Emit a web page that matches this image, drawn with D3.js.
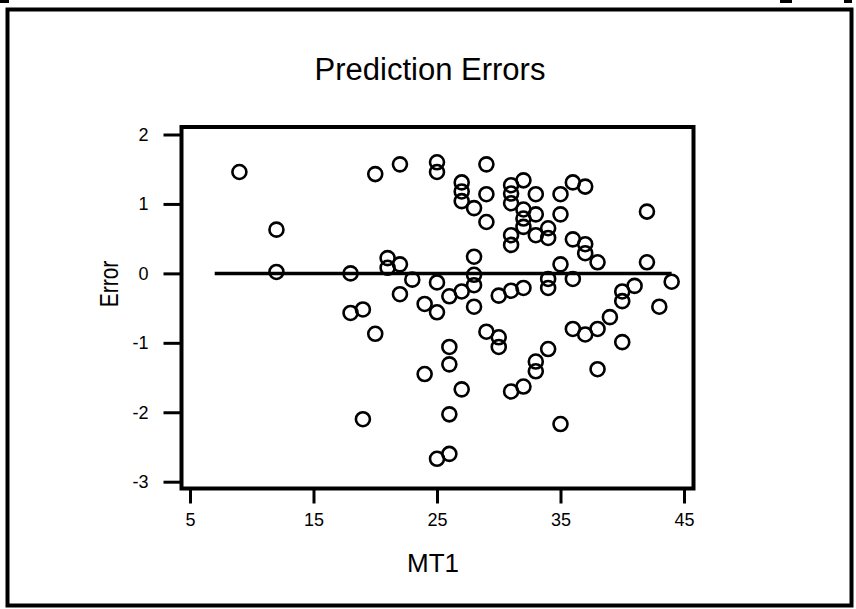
<!DOCTYPE html>
<html>
<head>
<meta charset="utf-8">
<script src="https://cdn.jsdelivr.net/npm/d3@7"></script>
<style>
  body { margin: 0; background: #fff; }
  text { font-family: "Liberation Sans", Arial, sans-serif; fill: #000; }
</style>
</head>
<body>
<div id="viz"></div>
<script>

// data: MT1 value and prediction error for each case
var mt1 = [9, 12, 12, 18, 18, 19, 19, 20, 20, 21, 21, 22, 22, 22, 23, 24, 24,
  25, 25, 25, 25, 25, 26, 26, 26, 26, 26, 27, 27, 27, 27, 27, 28, 28, 28, 28, 28,
  29, 29, 29, 29, 30, 30, 30, 31, 31, 31, 31, 31, 31, 31, 32, 32, 32, 32, 32, 32,
  33, 33, 33, 33, 33, 34, 34, 34, 34, 34, 35, 35, 35, 35, 36, 36, 36, 36,
  37, 37, 37, 37, 38, 38, 38, 39, 40, 40, 40, 41, 42, 42, 43, 44];
var errors = [1.46, 0.63, 0.02, 0.00, -0.57, -0.52, -2.10, 1.43, -0.87, 0.22, 0.08,
  1.57, 0.13, -0.30, -0.09, -0.44, -1.45,
  1.60, 1.46, -0.13, -0.56, -2.67, -0.33, -1.06, -1.31, -2.03, -2.60,
  1.31, 1.18, 1.04, -0.26, -1.67, 0.94, 0.24, -0.02, -0.17, -0.48,
  1.57, 1.14, 0.74, -0.84, -0.32, -0.92, -1.06, 1.27, 1.15, 1.01, 0.55, 0.41, -0.25, -1.70,
  1.34, 0.92, 0.79, 0.67, -0.21, -1.63, 1.14, 0.85, 0.55, -1.27, -1.41,
  0.65, 0.51, -0.08, -0.21, -1.09, 1.14, 0.85, 0.13, -2.17, 1.31, 0.49, -0.08, -0.80,
  1.25, 0.42, 0.29, -0.88, 0.16, -0.80, -1.38, -0.63, -0.26, -0.40, -0.99, -0.18,
  0.89, 0.16, -0.48, -0.12];

// zero reference line
var refX = [7, 44];
var refY = [0, 0];

// tick values
var xTicks = [5, 15, 25, 35, 45];
var yTicks = [2, 1, 0, -1, -2, -3];

var svg = d3.select('#viz').append('svg')
  .attr('width', 856)
  .attr('height', 609);

// outer frame
svg.append('rect')
  .attr('x', 7.5).attr('y', 9.5)
  .attr('width', 844).attr('height', 596)
  .attr('fill', 'none')
  .attr('stroke', '#000')
  .attr('stroke-width', 4);

// bits of the page above that got cut off
svg.append('rect').attr('x', 0).attr('y', 0).attr('width', 9).attr('height', 3);
svg.append('rect').attr('x', 780).attr('y', 0).attr('width', 12).attr('height', 3);
svg.append('rect').attr('x', 844).attr('y', 0).attr('width', 8).attr('height', 3);

// scales
var x_scale = d3.scaleLinear().domain([5, 45]).range([190, 684]);
var y_scale = d3.scaleLinear().domain([2, -3]).range([134.5, 481.7]);

var box = { left: 181.5, right: 693.5, top: 127, bottom: 488.5 };

// plain labels, ascii minus like the original
var plain = function (d) { return String(d); };

function styleAxis(g) {
  g.select('.domain').remove();
  g.selectAll('line').attr('stroke-width', 3);
  g.selectAll('text')
    .style('font-size', '18px')
    .style('font-family', '"Liberation Sans", Arial, sans-serif');
}

// axes (ticks hang outside the box)
svg.append('g')
  .attr('class', 'axis yAxis')
  .attr('transform', 'translate(' + box.left + ',0)')
  .call(d3.axisLeft(y_scale).tickValues(yTicks).tickFormat(plain).tickSize(18).tickPadding(15))
  .call(styleAxis);

svg.append('g')
  .attr('class', 'axis xAxis')
  .attr('transform', 'translate(0,' + box.bottom + ')')
  .call(d3.axisBottom(x_scale).tickValues(xTicks).tickFormat(plain).tickSize(15).tickPadding(10))
  .call(styleAxis);

// plot box
svg.append('rect')
  .attr('x', box.left).attr('y', box.top)
  .attr('width', box.right - box.left).attr('height', box.bottom - box.top)
  .attr('fill', 'none')
  .attr('stroke', '#000')
  .attr('stroke-width', 4);

// zero line
svg.append('line')
  .attr('x1', x_scale(refX[0])).attr('x2', x_scale(refX[1]))
  .attr('y1', y_scale(refY[0])).attr('y2', y_scale(refY[1]))
  .attr('stroke', '#000')
  .attr('stroke-width', 3.5);

// points
svg.selectAll('.pt')
  .data(mt1)
  .enter()
  .append('circle')
  .attr('class', 'pt')
  .attr('cx', function (d) { return x_scale(d); })
  .attr('cy', function (d, i) { return y_scale(errors[i]); })
  .attr('r', 7)
  .attr('fill', 'none')
  .attr('stroke', '#000')
  .attr('stroke-width', 2.6);

// labels
svg.append('text')
  .attr('x', 430).attr('y', 80)
  .attr('text-anchor', 'middle')
  .style('font-size', '31px')
  .text('Prediction Errors');

svg.append('text')
  .attr('x', 433).attr('y', 572)
  .attr('text-anchor', 'middle')
  .style('font-size', '26px')
  .text('MT1');

// y label is a bit squeezed along its length in the original
svg.append('text')
  .attr('transform', 'translate(118,284) rotate(-90) scale(0.84,1)')
  .attr('text-anchor', 'middle')
  .style('font-size', '25px')
  .text('Error');

</script>
</body>
</html>
